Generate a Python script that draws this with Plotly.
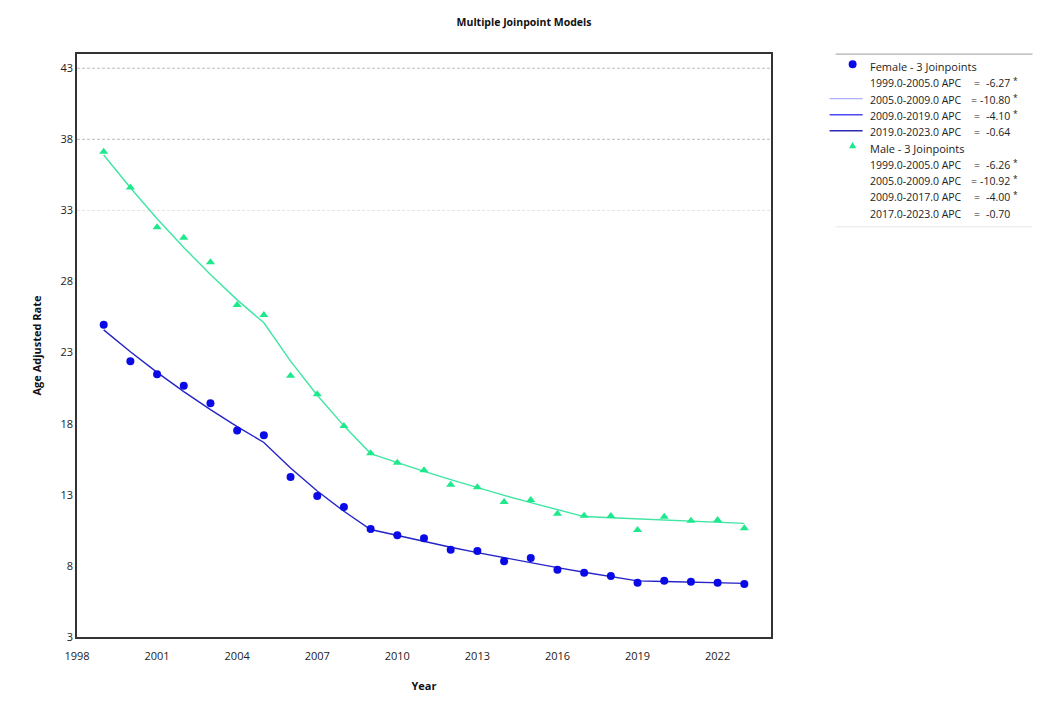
import plotly.graph_objects as go

years = list(range(1999, 2024))

female_obs = [24.96, 22.39, 21.47, 20.67, 19.43, 17.53, 17.18, 14.25, 12.92, 12.14,
              10.60, 10.15, 9.94, 9.14, 9.05, 8.32, 8.56, 7.73, 7.52, 7.29,
              6.82, 6.96, 6.89, 6.82, 6.73]
female_fit = [24.60, 23.06, 21.61, 20.26, 18.99, 17.80, 16.68, 14.88, 13.27, 11.84,
              10.56, 10.13, 9.71, 9.31, 8.93, 8.57, 8.21, 7.88, 7.55, 7.24,
              6.95, 6.90, 6.86, 6.81, 6.77]

male_obs = [37.13, 34.62, 31.81, 31.08, 29.35, 26.35, 25.64, 21.38, 20.07, 17.84,
            15.92, 15.26, 14.72, 13.71, 13.53, 12.49, 12.63, 11.67, 11.53, 11.51,
            10.52, 11.46, 11.18, 11.23, 10.64]
male_fit = [36.90, 34.59, 32.42, 30.39, 28.49, 26.71, 25.10, 22.40, 20.00, 17.85,
            15.90, 15.26, 14.65, 14.07, 13.50, 12.96, 12.45, 11.95, 11.47, 11.39,
            11.31, 11.23, 11.15, 11.07, 10.99]

female_label = "Female - 3 Joinpoints"
male_label = "Male - 3 Joinpoints"
female_segments = ["1999.0-2005.0", "2005.0-2009.0", "2009.0-2019.0", "2019.0-2023.0"]
female_apc = ["-6.27", "-10.80", "-4.10", "-0.64"]
female_sig = [True, True, True, False]
male_segments = ["1999.0-2005.0", "2005.0-2009.0", "2009.0-2017.0", "2017.0-2023.0"]
male_apc = ["-6.26", "-10.92", "-4.00", "-0.70"]
male_sig = [True, True, True, False]

y_ticks = [3, 8, 13, 18, 23, 28, 33, 38, 43]
x_ticks = [1998, 2001, 2004, 2007, 2010, 2013, 2016, 2019, 2022]

FEM_MARK = "#0a0ae6"
FEM_LINE = "#2424c8"
MALE_MARK = "#1ee88c"
MALE_LINE = "#3ee6a2"
FONT = "Open Sans"
TXT = "#222222"

OFF = 8  # page body margin
W, H = 1050 - OFF, 708 - OFF
# plot box in reference (window) pixels
L, R, T, B = 76.7, 771.3, 54.3, 637.0


def px(x):
    return (x - L) / (R - L)


def py(y):
    return (B - y) / (B - T)


fig = go.Figure()
fig.add_trace(go.Scatter(x=years, y=female_fit, mode="lines",
                         line=dict(color=FEM_LINE, width=1.4), showlegend=False, hoverinfo="skip"))
fig.add_trace(go.Scatter(x=years, y=male_fit, mode="lines",
                         line=dict(color=MALE_LINE, width=1.4), showlegend=False, hoverinfo="skip"))
fig.add_trace(go.Scatter(x=years, y=female_obs, mode="markers", name=female_label,
                         marker=dict(symbol="circle", size=8, color=FEM_MARK), showlegend=False))
fig.add_trace(go.Scatter(x=years, y=male_obs, mode="markers", name=male_label,
                         marker=dict(symbol="triangle-up", size=8, color=MALE_MARK), showlegend=False))

shapes = []
annotations = []

# gridlines
grid_styles = {43: "#bdbdbd", 38: "#bdbdbd", 33: "#e2e2e2"}
for gv, gc in grid_styles.items():
    shapes.append(dict(type="line", xref="paper", yref="y", x0=0, x1=1, y0=gv, y1=gv,
                       line=dict(color=gc, width=1, dash="3px,2px"), layer="below"))

# custom legend panel
shapes.append(dict(type="line", xref="paper", yref="paper", x0=px(836), x1=px(1033),
                   y0=py(54.5), y1=py(54.5), line=dict(color="#b0b0b0", width=1.2)))
shapes.append(dict(type="line", xref="paper", yref="paper", x0=px(836), x1=px(1033),
                   y0=py(227), y1=py(227), line=dict(color="#e6e6e6", width=1)))

row_y = [67, 83.5, 100, 116, 132, 148.5, 165, 181, 197.5, 214]

# legend symbols
r = 4.0
shapes.append(dict(type="circle", xref="paper", yref="paper",
                   x0=px(853 - r), x1=px(853 + r), y0=py(64.5 + r), y1=py(64.5 - r),
                   fillcolor=FEM_MARK, line=dict(width=0)))
tx, ty = 853, 145.5
tri = "M {:.5f} {:.5f} L {:.5f} {:.5f} L {:.5f} {:.5f} Z".format(
    px(tx - 3.5), py(ty + 3), px(tx + 3.5), py(ty + 3), px(tx), py(ty - 3.5))
shapes.append(dict(type="path", xref="paper", yref="paper", path=tri,
                   fillcolor=MALE_MARK, line=dict(width=0)))

seg_line_styles = [None, ("#9a9aff", 1), ("#4a4af0", 1.6), ("#2a2ab4", 1.6)]
for i, st in enumerate(seg_line_styles):
    if st is None:
        continue
    yy = row_y[1 + i] - 1
    shapes.append(dict(type="line", xref="paper", yref="paper", x0=px(830), x1=px(863),
                       y0=py(yy), y1=py(yy), line=dict(color=st[0], width=st[1])))


def add_text(x, y, text, anchor="left", size=11):
    annotations.append(dict(x=px(x), y=py(y), xref="paper", yref="paper", text=text,
                            showarrow=False, xanchor=anchor, yanchor="middle",
                            font=dict(family=FONT, size=size, color=TXT)))


add_text(868, row_y[0], female_label)
add_text(868, row_y[5], male_label)
for k, (segs, apcs, sigs) in enumerate([(female_segments, female_apc, female_sig),
                                         (male_segments, male_apc, male_sig)]):
    base = 1 if k == 0 else 6
    for j in range(4):
        y = row_y[base + j]
        add_text(868, y, segs[j] + " APC", size=10.5)
        eqx = 974 if len(apcs[j]) > 5 else 977
        add_text(eqx, y, "=", anchor="center", size=10.5)
        add_text(1013, y, apcs[j], anchor="right", size=10.5)
        if sigs[j]:
            add_text(1011.5, y - 2.5, "*", anchor="left", size=8.5)

fig.update_layout(
    width=W, height=H,
    margin=dict(l=L - OFF, r=(W + OFF) - R, t=T - OFF, b=(H + OFF) - B, pad=0),
    paper_bgcolor="white", plot_bgcolor="white",
    title=dict(text="<b>Multiple Joinpoint Models</b>", x=(524 - OFF) / W, xanchor="center",
               y=1 - (22 - OFF) / H, yanchor="middle",
               font=dict(family=FONT, size=10.5, color="#111111")),
    xaxis=dict(range=[1998, 2024], tickvals=x_ticks, showgrid=False, zeroline=False,
               showline=True, linecolor="#333333", linewidth=1.5, mirror=True,
               ticks="outside", ticklen=8, tickcolor="rgba(0,0,0,0)",
               tickfont=dict(family=FONT, size=11, color=TXT),
               title=dict(text="<b>Year</b>", font=dict(family=FONT, size=11, color="#111111"),
                          standoff=20)),
    yaxis=dict(range=[3, 44], tickvals=y_ticks, showgrid=False, zeroline=False,
               showline=True, linecolor="#333333", linewidth=1.5, mirror=True,
               ticks="", tickfont=dict(family=FONT, size=11, color=TXT),
               title=dict(text="<b>Age Adjusted Rate</b>",
                          font=dict(family=FONT, size=11, color="#111111"), standoff=17)),
    shapes=shapes, annotations=annotations, showlegend=False,
)

fig.write_html("out.html")
